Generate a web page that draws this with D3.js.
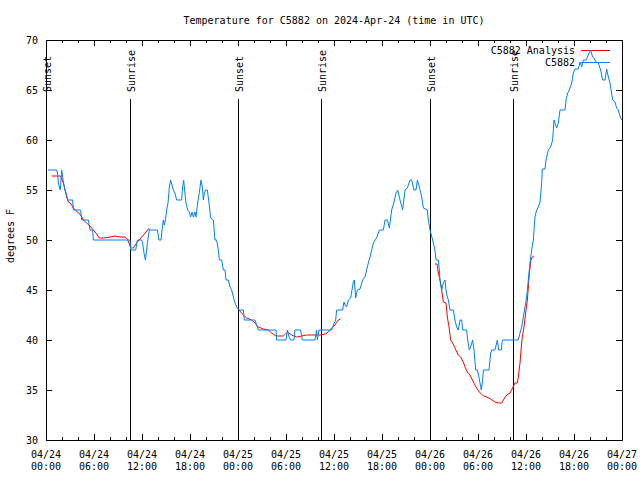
<!DOCTYPE html>
<html><head><meta charset="utf-8">
<script src="https://cdn.jsdelivr.net/npm/d3@7"></script>
<style>
body{margin:0;background:#fff}
text{font-family:"DejaVu Sans Mono","Liberation Mono",monospace;font-size:10px;fill:#000}
</style>
</head><body>
<svg id="chart" width="640" height="480"></svg>
<script>
const chartTitle = "Temperature for C5882 on 2024-Apr-24 (time in UTC)";
const yAxisLabel = "degrees F";
const seriesNames = ["C5882 Analysis", "C5882"];
const startTime = "2024-04-24T00:00:00Z";

// hours since 04/24 00:00 UTC and observed temperature (F)
const obsHours = [0.25,1.33,1.46,1.54,1.67,1.79,1.88,1.96,2.04,2.17,2.38,2.58,2.71,3.33,3.42,4.33,4.46,5.29,5.5,5.83,5.92,10.5,10.58,11.21,11.42,11.96,12.08,12.25,12.42,12.58,12.67,12.92,13.92,14.12,14.38,14.5,14.67,14.79,14.92,15.08,15.25,15.42,15.58,15.75,15.92,16.12,16.33,16.96,17.08,17.21,17.33,17.5,17.71,17.92,18.08,18.25,18.42,18.62,18.75,18.96,19.17,19.38,19.54,19.67,19.79,19.96,20.17,20.38,20.58,20.92,21.12,21.33,21.54,21.67,21.96,22.17,22.38,22.5,22.79,23.0,23.21,23.42,23.63,23.83,24.12,24.67,24.79,26.12,26.54,28.75,28.83,30.0,30.17,30.38,30.58,31.0,31.12,31.83,32.04,33.62,33.83,33.92,34.12,35.71,35.92,36.21,36.33,37.08,37.25,37.38,37.58,37.79,38.08,38.42,38.54,38.71,38.92,39.25,39.58,39.88,40.08,40.29,40.5,40.71,40.92,41.12,41.33,41.67,42.17,42.38,42.67,42.92,43.0,43.21,43.5,43.75,43.96,44.25,44.58,44.88,45.17,45.5,45.71,46.0,46.25,46.42,46.67,46.96,47.17,47.67,47.79,48.0,48.33,48.62,48.75,49.04,49.17,49.25,49.46,49.67,49.88,50.0,50.17,50.29,50.5,50.92,51.12,51.33,51.54,51.75,51.96,52.08,52.58,52.71,52.92,53.08,53.33,53.5,53.71,53.92,54.12,54.25,54.42,54.58,54.67,55.38,55.58,55.71,56.12,56.33,56.42,56.58,56.92,57.04,59.04,59.25,59.46,59.67,59.88,60.08,60.29,60.5,60.71,60.92,61.0,61.12,61.33,61.54,61.75,61.96,62.04,62.38,62.5,62.79,63.08,63.33,63.5,63.62,63.83,64.04,64.25,64.88,65.0,65.21,65.42,65.71,65.92,66.12,66.54,66.75,66.96,67.17,67.5,67.79,68.08,68.33,68.5,68.75,69.04,69.33,69.58,69.88,70.08,70.29,70.5,70.83,71.12,71.33,71.54,71.83,72.0];
const obsTemps = [57.0,57.0,56.6,55.7,55.3,55.0,56.0,57.0,56.6,55.8,55.0,54.5,54.0,54.0,53.0,53.0,52.0,52.0,51.0,51.0,50.0,50.0,49.0,49.0,50.0,50.0,49.7,48.7,48.0,49.0,49.7,51.0,51.0,50.0,50.0,51.0,52.0,51.5,52.0,53.0,53.7,55.3,56.0,55.5,55.0,54.7,54.0,54.0,55.3,56.0,55.0,53.7,53.0,52.8,52.3,52.8,52.3,52.8,52.3,53.7,54.8,56.0,55.3,54.0,54.7,55.0,55.0,53.7,52.2,52.0,50.0,50.0,49.0,48.0,48.0,47.0,47.0,46.0,46.0,45.3,45.0,44.3,43.7,43.3,43.0,43.0,42.0,42.0,41.0,41.0,40.0,40.0,41.0,40.3,40.0,40.0,41.0,41.0,40.0,40.0,41.0,40.0,41.0,41.0,41.5,42.0,43.0,43.0,43.8,43.5,43.3,44.0,44.2,45.8,46.0,44.2,45.0,45.1,46.0,46.3,47.0,47.7,48.3,49.0,49.7,50.0,50.2,51.0,51.0,52.0,52.0,51.2,51.7,53.0,53.8,54.7,55.0,54.0,53.0,55.0,55.2,56.0,56.0,55.0,55.0,56.0,55.3,54.3,53.2,53.0,52.0,51.0,50.0,49.0,48.0,48.0,47.0,46.0,45.0,45.7,46.0,45.0,44.3,44.0,43.0,43.0,42.0,41.3,41.0,42.0,42.0,41.0,41.0,40.0,39.0,39.3,40.0,39.0,37.0,37.0,36.3,35.7,35.0,36.0,37.0,37.0,38.7,39.0,39.0,39.7,40.0,39.0,39.0,40.0,40.0,40.7,41.3,42.3,43.3,44.3,46.0,47.7,49.0,50.0,51.0,52.3,53.0,53.3,53.8,55.7,57.1,57.1,58.0,59.0,59.3,60.0,62.0,61.7,61.2,61.7,63.0,63.0,64.0,64.7,65.0,65.7,66.7,67.1,67.1,67.8,67.3,68.0,68.0,68.5,69.0,68.3,68.2,67.8,67.7,67.0,66.0,66.0,67.1,66.3,65.7,64.0,63.8,63.2,63.0,62.2,62.0];

// analysis series (null = gap between runs)
const anaHours = [0.71,1.83,1.96,2.17,2.38,2.58,2.79,3.0,3.21,3.42,3.83,4.04,4.25,4.46,4.67,5.08,5.5,5.71,5.92,6.33,6.67,7.17,8.0,8.62,9.25,9.88,10.17,10.42,10.58,10.92,11.33,11.75,12.17,12.5,12.79,13.0,null,24.12,24.67,25.08,25.71,26.12,26.54,27.17,27.79,28.21,28.75,29.67,30.17,30.71,31.33,31.96,32.58,33.62,34.25,34.88,35.29,35.71,36.12,36.54,36.83,null,48.62,48.88,49.04,49.25,49.46,49.67,50.0,50.17,50.38,50.58,50.83,51.12,51.54,51.83,52.17,52.38,52.67,53.0,53.42,53.75,54.17,54.67,55.08,55.58,56.12,56.54,56.96,57.25,57.58,58.0,58.33,58.62,58.92,59.04,59.25,59.38,59.54,59.75,60.0,60.17,60.42,60.62,60.79,61.0];
const anaTemps = [56.4,56.4,56.1,55.7,55.0,54.3,53.8,53.7,53.5,53.2,52.9,52.7,52.6,52.3,52.0,51.7,51.4,51.2,51.0,50.6,50.2,50.2,50.3,50.4,50.3,50.3,50.1,49.6,49.2,49.2,49.7,50.1,50.5,50.8,51.1,51.1,null,43.0,42.5,42.2,42.0,41.7,41.3,41.1,41.0,40.7,40.4,40.4,40.8,40.5,40.3,40.4,40.5,40.5,40.5,40.6,40.8,41.2,41.5,42.0,42.1,null,47.6,47.6,46.7,46.0,45.0,43.8,43.7,42.3,41.3,40.0,39.7,39.2,38.5,38.3,37.8,37.3,36.8,36.5,35.8,35.3,34.8,34.4,34.3,34.1,33.8,33.7,33.7,34.1,34.5,34.7,35.2,35.7,35.7,36.3,37.7,39.0,40.3,41.3,43.0,44.0,46.7,48.0,48.3,48.4];

const eventHours = [0.03, 10.5, 24.04, 34.38, 48.05, 58.4];
const eventLabels = ["Sunset", "Sunrise", "Sunset", "Sunrise", "Sunset", "Sunrise"];
const yTicks = [30, 35, 40, 45, 50, 55, 60, 65, 70];
const xMajorHours = [0, 6, 12, 18, 24, 30, 36, 42, 48, 54, 60, 66, 72];
const xMinorHours = [2, 4, 8, 10, 14, 16, 20, 22, 26, 28, 32, 34, 38, 40, 44, 46, 50, 52, 56, 58, 62, 64, 68, 70];

const t0 = new Date(startTime);
const toDate = h => new Date(t0.getTime() + h * 3600000);

const L = 46, R = 622, T = 40, B = 440;
const svg = d3.select("#chart");
const x = d3.scaleUtc().domain([toDate(0), toDate(72)]).range([L, R]);
const y = d3.scaleLinear().domain([30, 70]).range([B, T]);
const px = v => Math.round(v) + 0.5;

// title
svg.append("text").attr("x", (L + R) / 2).attr("y", 24).attr("text-anchor", "middle").text(chartTitle);
// y label
svg.append("text").attr("transform", `translate(14,${(T + B) / 2 - 4}) rotate(-90)`)
  .attr("text-anchor", "middle").text(yAxisLabel);

const g = svg.append("g").attr("shape-rendering", "crispEdges");

// y ticks (left + right mirror)
yTicks.forEach(v => {
  const yy = px(y(v));
  g.append("line").attr("x1", L).attr("x2", L + 6).attr("y1", yy).attr("y2", yy).attr("stroke", "#000");
  g.append("line").attr("x1", R - 6).attr("x2", R).attr("y1", yy).attr("y2", yy).attr("stroke", "#000");
  svg.append("text").attr("x", 38).attr("y", y(v) + 4).attr("text-anchor", "end").text(v);
});

// x ticks
const fmtD = d3.utcFormat("%m/%d"), fmtT = d3.utcFormat("%H:%M");
xMajorHours.forEach(h => {
  const xx = px(x(toDate(h)));
  g.append("line").attr("x1", xx).attr("x2", xx).attr("y1", B).attr("y2", B - 6).attr("stroke", "#000");
  g.append("line").attr("x1", xx).attr("x2", xx).attr("y1", T).attr("y2", T + 6).attr("stroke", "#000");
  const d = toDate(h);
  svg.append("text").attr("x", x(d)).attr("y", 458).attr("text-anchor", "middle").text(fmtD(d));
  svg.append("text").attr("x", x(d)).attr("y", 470).attr("text-anchor", "middle").text(fmtT(d));
});
xMinorHours.forEach(h => {
  const xx = px(x(toDate(h)));
  g.append("line").attr("x1", xx).attr("x2", xx).attr("y1", B).attr("y2", B - 3).attr("stroke", "#000");
  g.append("line").attr("x1", xx).attr("x2", xx).attr("y1", T).attr("y2", T + 3).attr("stroke", "#000");
});

// frame
g.append("rect").attr("x", L + 0.5).attr("y", T + 0.5).attr("width", R - L).attr("height", B - T)
  .attr("fill", "none").attr("stroke", "#000");

// sunrise / sunset markers
eventHours.forEach((h, i) => {
  const xx = px(x(toDate(h)));
  g.append("line").attr("x1", xx).attr("x2", xx).attr("y1", 99).attr("y2", B).attr("stroke", "#000");
  svg.append("text").attr("transform", `translate(${x(toDate(h)) + 5},92) rotate(-90)`)
    .attr("text-anchor", "start").text(eventLabels[i]);
});

// data lines
const obs = obsHours.map((h, i) => ({ t: toDate(h), v: obsTemps[i] }));
const ana = anaHours.map((h, i) => ({ t: h == null ? null : toDate(h), v: anaTemps[i] }));
const line = d3.line().defined(d => d.t != null && d.v != null).x(d => x(d.t)).y(d => y(d.v));

svg.append("path").datum(ana).attr("d", line).attr("fill", "none").attr("stroke", "#ff0000").attr("stroke-width", 1);
svg.append("path").datum(obs).attr("d", line).attr("fill", "none").attr("stroke", "#0080ff").attr("stroke-width", 1);

// legend
const legendColors = ["#ff0000", "#0080ff"];
seriesNames.forEach((n, i) => {
  const yy = 50 + i * 12;
  svg.append("text").attr("x", 575).attr("y", yy + 4).attr("text-anchor", "end").text(n);
  g.append("line").attr("x1", 581).attr("x2", 610).attr("y1", yy + 0.5).attr("y2", yy + 0.5)
    .attr("stroke", legendColors[i]);
});
</script>
</body></html>
